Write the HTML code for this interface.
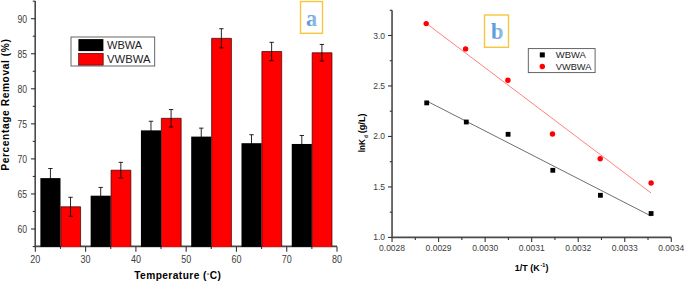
<!DOCTYPE html>
<html><head><meta charset="utf-8"><style>
html,body{margin:0;padding:0;background:#fff;width:685px;height:282px;overflow:hidden}
svg{display:block}
text{font-family:"Liberation Sans",sans-serif}
.tl{font-size:10.0px;fill:#3c3c3c}
.tr{font-size:8.5px;fill:#3c3c3c}
.tt{font-size:11px;font-weight:bold;fill:#000}
.tt2{font-size:9px;font-weight:bold;fill:#000}
.tt3{font-size:8.2px;font-weight:bold;fill:#000}
.lg{font-size:11.2px;fill:#222}
.lg2{font-size:9.2px;fill:#222}
.lab{font-family:"Liberation Serif",serif;font-weight:bold;font-size:22.5px;fill:url(#lg)}
</style></head><body>
<svg width="685" height="282" viewBox="0 0 685 282">
<defs><linearGradient id="lg" x1="0" y1="0" x2="1" y2="0"><stop offset="0" stop-color="#4f92d9"/><stop offset="0.5" stop-color="#74aae2"/><stop offset="1" stop-color="#9cc3ec"/></linearGradient></defs>
<rect width="685" height="282" fill="#fff"/>
<path d="M35.2 1V246.4H337.00" stroke="#4a4a4a" stroke-width="1.6" fill="none"/>
<path d="M32.75 246.53H35.35" stroke="#333" stroke-width="1.1"/>
<path d="M30.95 229.00H35.35" stroke="#333" stroke-width="1.1"/>
<text x="27.05" y="233.00" text-anchor="end" class="tl" textLength="9.6" lengthAdjust="spacingAndGlyphs">60</text>
<path d="M32.75 211.47H35.35" stroke="#333" stroke-width="1.1"/>
<path d="M30.95 193.95H35.35" stroke="#333" stroke-width="1.1"/>
<text x="27.05" y="197.95" text-anchor="end" class="tl" textLength="9.6" lengthAdjust="spacingAndGlyphs">65</text>
<path d="M32.75 176.43H35.35" stroke="#333" stroke-width="1.1"/>
<path d="M30.95 158.90H35.35" stroke="#333" stroke-width="1.1"/>
<text x="27.05" y="162.90" text-anchor="end" class="tl" textLength="9.6" lengthAdjust="spacingAndGlyphs">70</text>
<path d="M32.75 141.38H35.35" stroke="#333" stroke-width="1.1"/>
<path d="M30.95 123.85H35.35" stroke="#333" stroke-width="1.1"/>
<text x="27.05" y="127.85" text-anchor="end" class="tl" textLength="9.6" lengthAdjust="spacingAndGlyphs">75</text>
<path d="M32.75 106.33H35.35" stroke="#333" stroke-width="1.1"/>
<path d="M30.95 88.80H35.35" stroke="#333" stroke-width="1.1"/>
<text x="27.05" y="92.80" text-anchor="end" class="tl" textLength="9.6" lengthAdjust="spacingAndGlyphs">80</text>
<path d="M32.75 71.28H35.35" stroke="#333" stroke-width="1.1"/>
<path d="M30.95 53.75H35.35" stroke="#333" stroke-width="1.1"/>
<text x="27.05" y="57.75" text-anchor="end" class="tl" textLength="9.6" lengthAdjust="spacingAndGlyphs">85</text>
<path d="M32.75 36.22H35.35" stroke="#333" stroke-width="1.1"/>
<path d="M30.95 18.70H35.35" stroke="#333" stroke-width="1.1"/>
<text x="27.05" y="22.70" text-anchor="end" class="tl" textLength="9.6" lengthAdjust="spacingAndGlyphs">90</text>
<path d="M32.75 1.18H35.35" stroke="#333" stroke-width="1.1"/>
<path d="M35.35 246.4V251.70" stroke="#333" stroke-width="1.1"/>
<text x="35.35" y="263.0" text-anchor="middle" class="tl" textLength="10" lengthAdjust="spacingAndGlyphs">20</text>
<path d="M60.49 246.4V248.90" stroke="#333" stroke-width="1.1"/>
<path d="M85.62 246.4V251.70" stroke="#333" stroke-width="1.1"/>
<text x="85.62" y="263.0" text-anchor="middle" class="tl" textLength="10" lengthAdjust="spacingAndGlyphs">30</text>
<path d="M110.76 246.4V248.90" stroke="#333" stroke-width="1.1"/>
<path d="M135.90 246.4V251.70" stroke="#333" stroke-width="1.1"/>
<text x="135.90" y="263.0" text-anchor="middle" class="tl" textLength="10" lengthAdjust="spacingAndGlyphs">40</text>
<path d="M161.04 246.4V248.90" stroke="#333" stroke-width="1.1"/>
<path d="M186.17 246.4V251.70" stroke="#333" stroke-width="1.1"/>
<text x="186.17" y="263.0" text-anchor="middle" class="tl" textLength="10" lengthAdjust="spacingAndGlyphs">50</text>
<path d="M211.31 246.4V248.90" stroke="#333" stroke-width="1.1"/>
<path d="M236.45 246.4V251.70" stroke="#333" stroke-width="1.1"/>
<text x="236.45" y="263.0" text-anchor="middle" class="tl" textLength="10" lengthAdjust="spacingAndGlyphs">60</text>
<path d="M261.59 246.4V248.90" stroke="#333" stroke-width="1.1"/>
<path d="M286.73 246.4V251.70" stroke="#333" stroke-width="1.1"/>
<text x="286.73" y="263.0" text-anchor="middle" class="tl" textLength="10" lengthAdjust="spacingAndGlyphs">70</text>
<path d="M311.86 246.4V248.90" stroke="#333" stroke-width="1.1"/>
<path d="M337.00 246.4V251.70" stroke="#333" stroke-width="1.1"/>
<text x="337.00" y="263.0" text-anchor="middle" class="tl" textLength="10" lengthAdjust="spacingAndGlyphs">80</text>
<rect x="40.38" y="178.11" width="20.11" height="68.79" fill="#000"/>
<rect x="90.65" y="195.70" width="20.11" height="51.20" fill="#000"/>
<rect x="140.93" y="130.37" width="20.11" height="116.53" fill="#000"/>
<rect x="191.20" y="136.61" width="20.11" height="110.29" fill="#000"/>
<rect x="241.48" y="143.20" width="20.11" height="103.70" fill="#000"/>
<rect x="291.75" y="143.97" width="20.11" height="102.93" fill="#000"/>
<rect x="60.79" y="206.78" width="19.81" height="40.22" fill="#f00"/>
<path d="M60.79 246.40V206.78H80.60V246.40" fill="none" stroke="#300" stroke-width="0.7"/>
<rect x="111.06" y="170.19" width="19.81" height="76.81" fill="#f00"/>
<path d="M111.06 246.40V170.19H130.87V246.40" fill="none" stroke="#300" stroke-width="0.7"/>
<rect x="161.34" y="118.31" width="19.81" height="128.69" fill="#f00"/>
<path d="M161.34 246.40V118.31H181.15V246.40" fill="none" stroke="#300" stroke-width="0.7"/>
<rect x="211.61" y="38.33" width="19.81" height="208.67" fill="#f00"/>
<path d="M211.61 246.40V38.33H231.42V246.40" fill="none" stroke="#300" stroke-width="0.7"/>
<rect x="261.89" y="51.51" width="19.81" height="195.49" fill="#f00"/>
<path d="M261.89 246.40V51.51H281.70V246.40" fill="none" stroke="#300" stroke-width="0.7"/>
<rect x="312.16" y="52.77" width="19.81" height="194.23" fill="#f00"/>
<path d="M312.16 246.40V52.77H331.97V246.40" fill="none" stroke="#300" stroke-width="0.7"/>
<path d="M50.43 168.50V187.71M48.23 168.50h4.4M48.23 187.71h4.4" stroke="#000" stroke-width="0.85" fill="none"/>
<path d="M100.71 187.43V203.97M98.51 187.43h4.4M98.51 203.97h4.4" stroke="#000" stroke-width="0.85" fill="none"/>
<path d="M150.98 121.26V139.48M148.78 121.26h4.4M148.78 139.48h4.4" stroke="#000" stroke-width="0.85" fill="none"/>
<path d="M201.26 128.13V145.09M199.06 128.13h4.4M199.06 145.09h4.4" stroke="#000" stroke-width="0.85" fill="none"/>
<path d="M251.53 134.72V151.68M249.33 134.72h4.4M249.33 151.68h4.4" stroke="#000" stroke-width="0.85" fill="none"/>
<path d="M301.81 135.49V152.45M299.61 135.49h4.4M299.61 152.45h4.4" stroke="#000" stroke-width="0.85" fill="none"/>
<path d="M70.54 197.31V216.24M68.34 197.31h4.4M68.34 216.24h4.4" stroke="#000" stroke-width="0.85" fill="none"/>
<path d="M120.82 162.33V178.04M118.62 162.33h4.4M118.62 178.04h4.4" stroke="#000" stroke-width="0.85" fill="none"/>
<path d="M171.09 109.55V127.07M168.89 109.55h4.4M168.89 127.07h4.4" stroke="#000" stroke-width="0.85" fill="none"/>
<path d="M221.37 28.72V47.93M219.17 28.72h4.4M219.17 47.93h4.4" stroke="#000" stroke-width="0.85" fill="none"/>
<path d="M271.64 42.32V60.69M269.44 42.32h4.4M269.44 60.69h4.4" stroke="#000" stroke-width="0.85" fill="none"/>
<path d="M321.92 44.43V61.11M319.72 44.43h4.4M319.72 61.11h4.4" stroke="#000" stroke-width="0.85" fill="none"/>
<text x="134.2" y="279.1" class="tt" style="font-size:10.2px;letter-spacing:0.42px">Temperature (<tspan font-size="6.2" dy="-2.0">°</tspan><tspan dy="2.0">C)</tspan></text>
<text transform="translate(9.1 104.6) rotate(-90)" text-anchor="middle" class="tt" style="font-size:10.2px;letter-spacing:0.6px">Percentage Removal (%)</text>
<rect x="71" y="37" width="83.7" height="29" fill="#fff" stroke="#555" stroke-width="0.9"/>
<rect x="78.4" y="39.1" width="25" height="12" fill="#000"/>
<rect x="78.6" y="53.3" width="24.6" height="11.8" fill="#f00" stroke="#300" stroke-width="0.6"/>
<text x="107" y="49" class="lg" textLength="35.2" lengthAdjust="spacingAndGlyphs">WBWA</text>
<text x="107" y="62.7" class="lg" textLength="43.4" lengthAdjust="spacingAndGlyphs">VWBWA</text>
<rect x="300.5" y="1.5" width="22" height="31.8" fill="#fff" stroke="#f8c63c" stroke-width="1.4"/>
<text x="311.7" y="25.5" text-anchor="middle" class="lab">a</text>
<path d="M392.05 10.26V237.4H671.29" stroke="#4a4a4a" stroke-width="1.6" fill="none"/>
<path d="M387.95 237.40H392.05" stroke="#333" stroke-width="1.1"/>
<text x="385.05" y="240.40" text-anchor="end" class="tr">1.0</text>
<path d="M389.75 212.16H392.05" stroke="#333" stroke-width="1.1"/>
<path d="M387.95 186.93H392.05" stroke="#333" stroke-width="1.1"/>
<text x="385.05" y="189.93" text-anchor="end" class="tr">1.5</text>
<path d="M389.75 161.69H392.05" stroke="#333" stroke-width="1.1"/>
<path d="M387.95 136.45H392.05" stroke="#333" stroke-width="1.1"/>
<text x="385.05" y="139.45" text-anchor="end" class="tr">2.0</text>
<path d="M389.75 111.21H392.05" stroke="#333" stroke-width="1.1"/>
<path d="M387.95 85.97H392.05" stroke="#333" stroke-width="1.1"/>
<text x="385.05" y="88.97" text-anchor="end" class="tr">2.5</text>
<path d="M389.75 60.74H392.05" stroke="#333" stroke-width="1.1"/>
<path d="M387.95 35.50H392.05" stroke="#333" stroke-width="1.1"/>
<text x="385.05" y="38.50" text-anchor="end" class="tr">3.0</text>
<path d="M389.75 10.26H392.05" stroke="#333" stroke-width="1.1"/>
<path d="M392.05 237.4V241.90" stroke="#333" stroke-width="1.1"/>
<text x="392.05" y="251.4" text-anchor="middle" class="tr">0.0028</text>
<path d="M415.32 237.4V240.00" stroke="#333" stroke-width="1.1"/>
<path d="M438.59 237.4V241.90" stroke="#333" stroke-width="1.1"/>
<text x="438.59" y="251.4" text-anchor="middle" class="tr">0.0029</text>
<path d="M461.86 237.4V240.00" stroke="#333" stroke-width="1.1"/>
<path d="M485.13 237.4V241.90" stroke="#333" stroke-width="1.1"/>
<text x="485.13" y="251.4" text-anchor="middle" class="tr">0.0030</text>
<path d="M508.40 237.4V240.00" stroke="#333" stroke-width="1.1"/>
<path d="M531.67 237.4V241.90" stroke="#333" stroke-width="1.1"/>
<text x="531.67" y="251.4" text-anchor="middle" class="tr">0.0031</text>
<path d="M554.94 237.4V240.00" stroke="#333" stroke-width="1.1"/>
<path d="M578.21 237.4V241.90" stroke="#333" stroke-width="1.1"/>
<text x="578.21" y="251.4" text-anchor="middle" class="tr">0.0032</text>
<path d="M601.48 237.4V240.00" stroke="#333" stroke-width="1.1"/>
<path d="M624.75 237.4V241.90" stroke="#333" stroke-width="1.1"/>
<text x="624.75" y="251.4" text-anchor="middle" class="tr">0.0033</text>
<path d="M648.02 237.4V240.00" stroke="#333" stroke-width="1.1"/>
<path d="M671.29 237.4V241.90" stroke="#333" stroke-width="1.1"/>
<text x="671.29" y="251.4" text-anchor="middle" class="tr">0.0034</text>
<line x1="426.3" y1="23.4" x2="651" y2="192.9" stroke="#ff8080" stroke-width="1.0"/>
<line x1="426.7" y1="101.0" x2="651" y2="216.0" stroke="#666" stroke-width="0.95"/>
<rect x="424.30" y="100.50" width="4.8" height="4.8" fill="#000"/>
<rect x="463.90" y="119.60" width="4.8" height="4.8" fill="#000"/>
<rect x="505.70" y="131.90" width="4.8" height="4.8" fill="#000"/>
<rect x="550.40" y="167.90" width="4.8" height="4.8" fill="#000"/>
<rect x="598.00" y="192.90" width="4.8" height="4.8" fill="#000"/>
<rect x="648.70" y="211.10" width="4.8" height="4.8" fill="#000"/>
<circle cx="426.20" cy="23.60" r="2.7" fill="#f00"/>
<circle cx="465.60" cy="48.90" r="2.7" fill="#f00"/>
<circle cx="507.90" cy="80.30" r="2.7" fill="#f00"/>
<circle cx="552.50" cy="134.00" r="2.7" fill="#f00"/>
<circle cx="600.20" cy="158.80" r="2.7" fill="#f00"/>
<circle cx="651.10" cy="183.00" r="2.7" fill="#f00"/>
<text x="514.8" y="271" class="tt2">1/T (K<tspan font-size="5.5" dx="0.6" dy="-4.2">-1</tspan><tspan dy="4.2" dx="0.3">)</tspan></text>
<text transform="translate(364.6 152.3) rotate(-90)" class="tt3">lnK<tspan font-size="4.6" dx="1.2" dy="3">d</tspan><tspan dy="-3" dx="1.8" textLength="19.8" lengthAdjust="spacingAndGlyphs">(g/L)</tspan></text>
<rect x="528.3" y="48.6" width="66.8" height="24" fill="#fff" stroke="#555" stroke-width="0.9"/>
<rect x="539.8" y="52.4" width="5" height="5" fill="#000"/>
<circle cx="542.3" cy="66.5" r="2.7" fill="#f00"/>
<text x="555.8" y="58.3" class="lg2" textLength="30" lengthAdjust="spacingAndGlyphs">WBWA</text>
<text x="555.8" y="70" class="lg2" textLength="35.6" lengthAdjust="spacingAndGlyphs">VWBWA</text>
<rect x="484.5" y="15" width="24" height="32.3" fill="#fff" stroke="#f8c63c" stroke-width="1.4"/>
<text x="497.3" y="38.6" text-anchor="middle" class="lab">b</text>
</svg>
</body></html>
